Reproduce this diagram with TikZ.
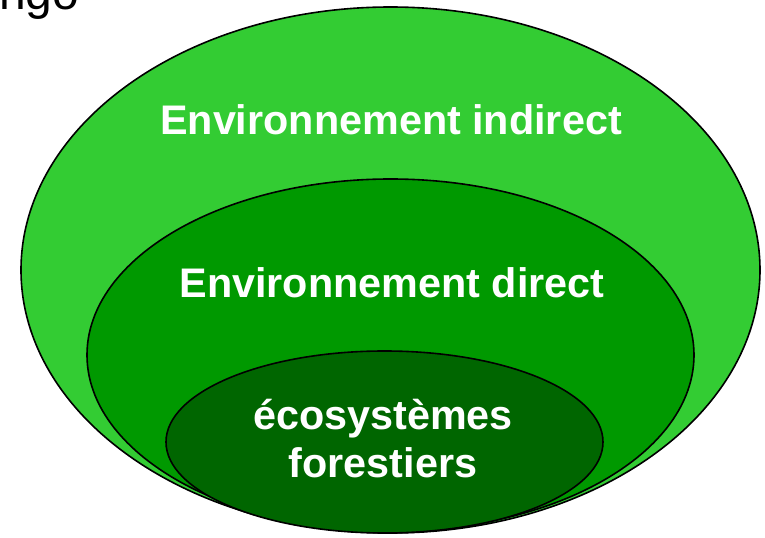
\documentclass[tikz,border=0pt]{standalone}
\usepackage{fontspec}
\setmainfont{Liberation Sans}
\usetikzlibrary{shapes.geometric}
\definecolor{outergreen}{RGB}{51,204,51}
\definecolor{midgreen}{RGB}{0,153,0}
\definecolor{innergreen}{RGB}{0,102,0}
\tikzset{
    zone/.style={ellipse,draw=black,line width=1.2pt,inner sep=0pt},
    zonelabel/.style={text=white,inner sep=0pt,align=center,
                      font=\bfseries\fontsize{31}{36}\selectfont}
}

\begin{document}
\begin{tikzpicture}[x=0.75pt,y=-0.75pt]
                \useasboundingbox (0,0) rectangle (765,538);
                \clip (0,0) rectangle (765,538);
                % title, cut off at the top
                \node[anchor=base west,inner sep=0pt,font=\fontsize{36}{40}\selectfont] (title) at (-1,10) {ngo};

                    % nested zones
                    \node[zone,fill=outergreen,minimum width=554.25pt,minimum height=394.5pt] (indirect) at (390.5,270) {};
                    \node[zone,fill=midgreen,minimum width=455.25pt,minimum height=264pt] (direct) at (390.5,355) {};
                    \node[zone,fill=innergreen,minimum width=327.75pt,minimum height=136.5pt] (forest) at (384.5,442) {};

                    \node[zonelabel,anchor=base] (indirectlabel) at (391,135) {Environnement indirect};
                    \node[zonelabel,anchor=base] (directlabel) at (392,298) {Environnement direct};
                    \node[zonelabel,anchor=base] (forestlabel) at (383,478) {écosystèmes\\forestiers};
            \end{tikzpicture}
\end{document}
